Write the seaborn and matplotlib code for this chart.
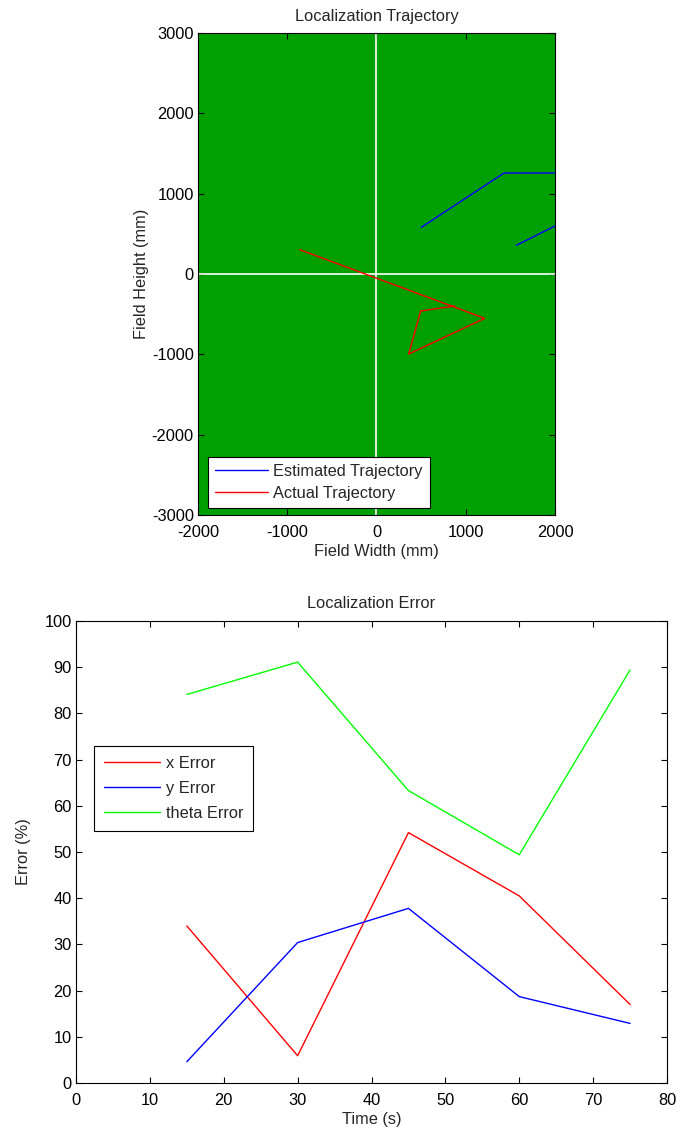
import numpy as np
import pandas as pd
import matplotlib
matplotlib.use("Agg")
import matplotlib.pyplot as plt
import seaborn as sns

sns.set_theme(style="white")
plt.rcParams["font.family"] = ["Liberation Sans", "DejaVu Sans"]
plt.rcParams["axes.unicode_minus"] = False
FS = 11.8
plt.rcParams["font.size"] = FS

# Trajectory data (mm); segment ids split the estimated path where it leaves the field
est_x = [502, 1429, 2000, 1567, 2000]
est_y = [581, 1257, 1257, 357, 598]
est_seg = [0, 0, 0, 1, 1]
act_x = [-861, 1212, 361, 495, 876]
act_y = [303, -552, -996, -461, -398]
act_seg = [2, 2, 2, 2, 2]

# Error data
time_s = [15, 30, 45, 60, 75]
x_err = [34.0, 5.9, 54.2, 40.5, 17.0]
y_err = [4.6, 30.4, 37.8, 18.7, 12.9]
theta_err = [84.1, 91.1, 63.3, 49.4, 89.4]

traj = pd.DataFrame({
    "x": est_x + act_x,
    "y": est_y + act_y,
    "seg": est_seg + act_seg,
    "name": ["Estimated Trajectory"] * len(est_x) + ["Actual Trajectory"] * len(act_x),
})
err = pd.DataFrame({
    "t": time_s * 3,
    "e": x_err + y_err + theta_err,
    "name": ["x Error"] * 5 + ["y Error"] * 5 + ["theta Error"] * 5,
})

fig = plt.figure(figsize=(6.81, 11.35), dpi=100)
ax1 = fig.add_axes([198 / 681, 1 - 515 / 1135, 357 / 681, 482 / 1135])
ax2 = fig.add_axes([76 / 681, 1 - 1083 / 1135, 591 / 681, 462 / 1135])

def style_axes(ax):
    for s in ax.spines.values():
        s.set_visible(True)
        s.set_color("black")
        s.set_linewidth(0.8)
    ax.tick_params(direction="in", length=4, width=0.8, top=True, right=True,
                   bottom=True, left=True, labelsize=FS, colors="black")
    ax.tick_params(axis="x", pad=7)
    ax.tick_params(axis="y", pad=3)

# Field plot
ax1.set_facecolor("#00A000")
ax1.axhline(0, color="white", lw=1.2, zorder=1)
ax1.axvline(0, color="white", lw=1.2, zorder=1)
sns.lineplot(data=traj, x="x", y="y", hue="name", units="seg", estimator=None,
             sort=False, palette={"Estimated Trajectory": "#0000FF",
                                  "Actual Trajectory": "#FF0000"},
             lw=1.0, ax=ax1, zorder=3)
ax1.set_xlim(-2000, 2000)
ax1.set_ylim(-3000, 3000)
ax1.set_xticks([-2000, -1000, 0, 1000, 2000])
ax1.set_yticks([-3000, -2000, -1000, 0, 1000, 2000, 3000])
ax1.set_xlabel("Field Width (mm)", fontsize=FS, labelpad=3)
ax1.set_ylabel("Field Height (mm)", fontsize=FS, labelpad=2)
ax1.set_title("Localization Trajectory", fontsize=FS, pad=9)
style_axes(ax1)
leg1 = ax1.legend(loc="lower left", bbox_to_anchor=(0.028, 0.0145), borderaxespad=0,
                  fancybox=False, framealpha=1, edgecolor="black", handlelength=3.2,
                  fontsize=FS, borderpad=0.45, labelspacing=0.4, handletextpad=0.3)
leg1.get_frame().set_linewidth(0.8)
for l in leg1.get_lines():
    l.set_linewidth(1.0)

# Error plot
sns.lineplot(data=err, x="t", y="e", hue="name", estimator=None, sort=False,
             palette={"x Error": "#FF0000", "y Error": "#0000FF", "theta Error": "#00FF00"},
             lw=1.0, ax=ax2)
ax2.set_xlim(0, 80)
ax2.set_ylim(0, 100)
ax2.set_xticks(np.arange(0, 81, 10))
ax2.set_yticks(np.arange(0, 101, 10))
ax2.set_xlabel("Time (s)", fontsize=FS, labelpad=3)
ax2.set_ylabel("Error (%)", fontsize=FS, labelpad=10)
ax2.set_title("Localization Error", fontsize=FS, pad=9)
style_axes(ax2)
leg2 = ax2.legend(loc="upper left", bbox_to_anchor=(0.031, 0.729), borderaxespad=0,
                  fancybox=False, framealpha=1, edgecolor="black", handlelength=3.4,
                  fontsize=FS, borderpad=0.6, labelspacing=0.6, handletextpad=0.35)
leg2.get_frame().set_linewidth(0.8)
for l in leg2.get_lines():
    l.set_linewidth(1.0)

fig.savefig("out.png", dpi=100, facecolor="white")
